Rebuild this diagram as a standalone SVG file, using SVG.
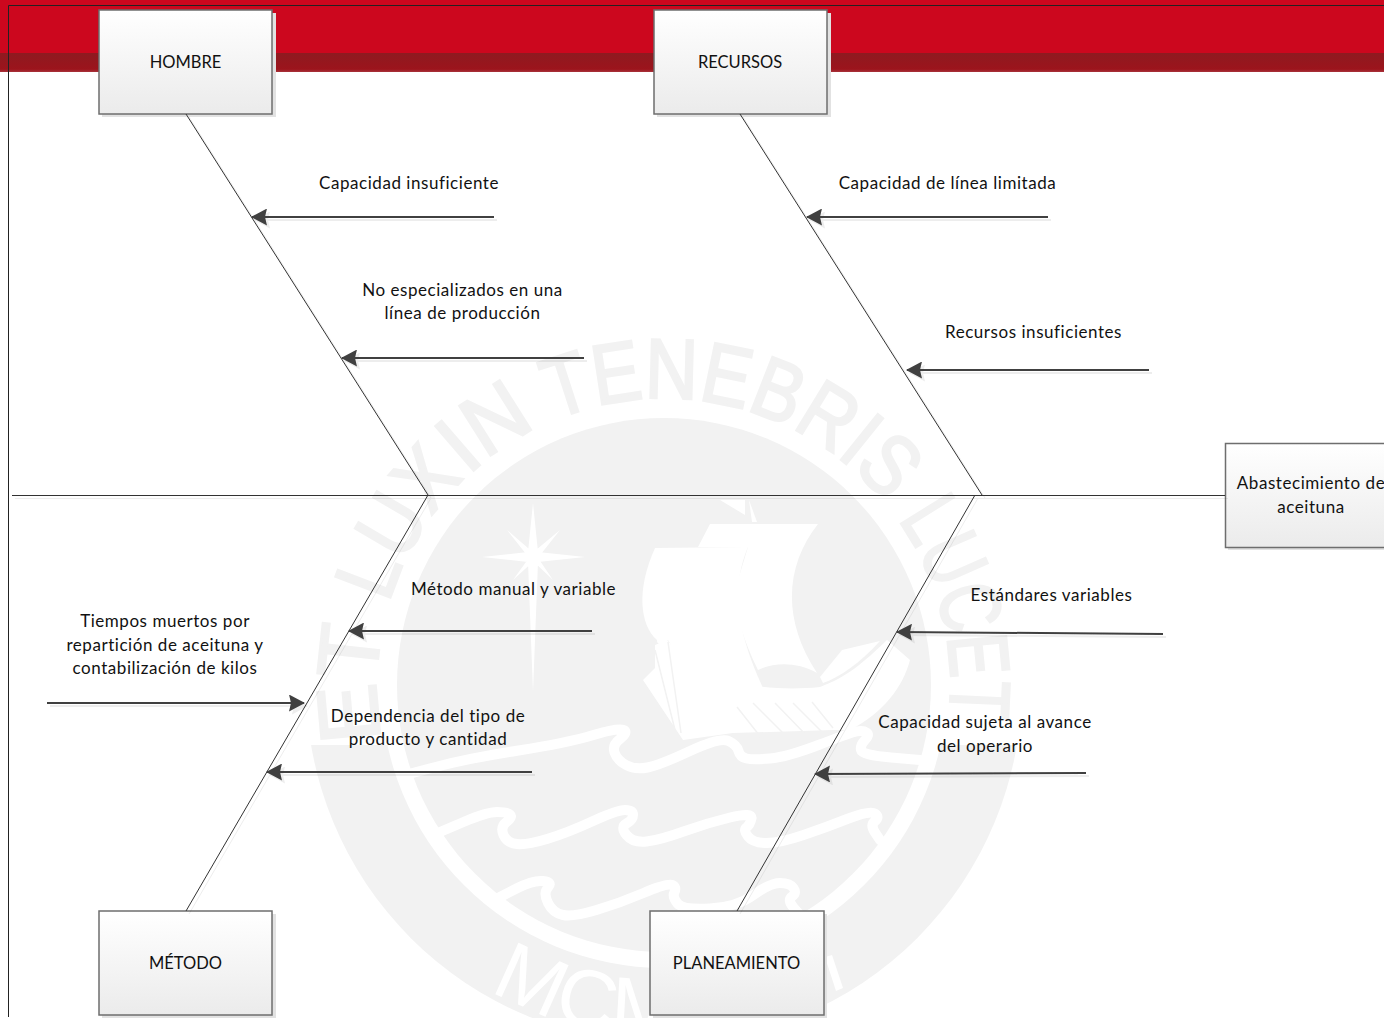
<svg xmlns="http://www.w3.org/2000/svg" width="1384" height="1018" viewBox="0 0 1384 1018">
<defs>
<linearGradient id="g" x1="0" y1="0" x2="0" y2="1"><stop offset="0" stop-color="#ffffff"/><stop offset="1" stop-color="#ebebeb"/></linearGradient>
<linearGradient id="band" x1="0" y1="0" x2="0" y2="1"><stop offset="0" stop-color="#8e1a20"/><stop offset="0.85" stop-color="#9c141c"/><stop offset="1" stop-color="#a8333a"/></linearGradient>
<marker id="a" markerUnits="userSpaceOnUse" markerWidth="17" markerHeight="17" refX="15" refY="8.500" orient="auto"><path d="M0 0L16 8.500L0 17L2 8.500Z" fill="#404040"/></marker>
<filter id="s" filterUnits="userSpaceOnUse" x="0" y="0" width="1384" height="1018"><feDropShadow dx="3" dy="3" stdDeviation="0.300" flood-color="#000" flood-opacity="0.070"/></filter>
<clipPath id="low"><rect x="0" y="745" width="1384" height="273"/></clipPath>
<path id="ring" d="M383 745A287 287 0 1 1 948 725"/>
<path id="ringb" d="M490 990A351 351 0 0 0 838 990"/>
</defs>
<style>
text{font-family:Lato,Carlito,"Liberation Sans",sans-serif;font-size:17px;letter-spacing:.55px;fill:#111;text-anchor:middle}
text.cap{font-size:16.500px;letter-spacing:0}
.box{fill:url(#g);stroke:#6e6e6e;stroke-width:1.500}
.sh{fill:#e2e2e2}
.bone{stroke:#333;stroke-width:1;fill:none}
.arr{stroke:#404040;stroke-width:2;fill:none;marker-end:url(#a)}
text.wm{font-family:"Liberation Sans",sans-serif;font-size:85px;letter-spacing:0;fill:#f2f2f2;stroke:#f2f2f2;stroke-width:2.500;text-anchor:start}
text.wb{font-family:"Liberation Sans",sans-serif;font-size:82px;letter-spacing:0;fill:#fff;text-anchor:start}
.w{fill:#fff}
.wl{fill:none;stroke:#fff;stroke-width:10;stroke-linejoin:round;stroke-linecap:round}
.gl{fill:none;stroke:#f2f2f2;stroke-width:1.500}
</style>
<rect width="1384" height="1018" fill="#fff"/>
<g id="banner">
<rect width="1384" height="53" fill="#cc071e"/>
<rect y="53" width="1384" height="19" fill="url(#band)"/>
</g>
<g id="watermark">
<circle cx="664" cy="685" r="358" fill="#f2f2f2" clip-path="url(#low)"/>
<circle cx="664" cy="685" r="283" fill="#fff"/>
<circle cx="664" cy="685" r="267" fill="#f2f2f2"/>
<text class="wm" textLength="113" lengthAdjust="spacingAndGlyphs"><textPath href="#ring" startOffset="5">ET</textPath></text>
<text class="wm" textLength="148" lengthAdjust="spacingAndGlyphs"><textPath href="#ring" startOffset="143">LUX</textPath></text>
<text class="wm" textLength="85" lengthAdjust="spacingAndGlyphs"><textPath href="#ring" startOffset="295">IN</textPath></text>
<text class="wm" textLength="366" lengthAdjust="spacingAndGlyphs"><textPath href="#ring" startOffset="398">TENEBRIS</textPath></text>
<text class="wm" textLength="210" lengthAdjust="spacingAndGlyphs"><textPath href="#ring" startOffset="784">LUCET</textPath></text>
<text class="wb"><textPath href="#ringb">MCM</textPath></text>
<path class="w" d="M825 957L832 955L843 988L836 991Z"/>
<path class="w" d="M533 503L538 552L585 557L538 562L533 692L528 562L482 557L528 552ZM507 530L536 555L530 559ZM560 530L537 559L530 555ZM513 580L531 555L536 559ZM553 580L531 559L536 555Z"/>
<path class="w" d="M655 548L748 547C733 583 733 623 763 688C725 690 690 680 668 640C660 645 657 645 657 640C640 625 636 590 655 548Z"/>
<path class="w" d="M710 524L818 524C787 563 780 617 817 673C797 662 775 662 758 670C738 630 733 600 738 580L748 547L698 547Z"/>
<path class="w" d="M820 677L842 650L880 641C860 663 840 677 823 683Z"/>
<path class="w" d="M720 500L745 500L745 515ZM749 500L757 522L752 522Z"/>
<path class="w" d="M643 680L655 668L655 645L667 640L682 657C707 680 763 693 820 687C847 677 863 663 887 640L910 660C903 687 883 713 850 730L833 730L733 733L683 740Z"/>
<path class="gl" d="M668 642L681 733M655 650L675 730M737 707L763 740M753 703L793 743M775 703L808 737M793 703L823 733M812 702L833 728"/>
<path class="wl" d="M405 775L437.500 766.500Q470 758 518.500 750.500Q567 743 593.500 735Q620 727 624 730Q628 733 620 739Q612 745 614.500 752.500Q617 760 626 765Q635 770 647.500 767.500Q660 765 690 751Q720 737 728.500 741Q737 745 738.500 751Q740 757 746.500 758.500Q753 760 770 758.500Q787 757 818.500 745Q850 733 856.500 731.500Q863 730 866.500 732.500Q870 735 865 740Q860 745 861 750Q862 755 891 757.500L920 760"/>
<path class="wl" d="M440 832L463.500 822Q487 812 497 812Q507 812 510 814.500Q513 817 506.500 822Q500 827 503.500 835Q507 843 517 844Q527 845 547 839Q567 833 592 821.500Q617 810 625 810Q633 810 633 815Q633 820 626.500 823.500Q620 827 626.500 835Q633 843 646.500 841.500Q660 840 683.500 831.500Q707 823 730 817.500Q753 812 751.500 818.500Q750 825 746.500 827.500Q743 830 748 836.500Q753 843 766.500 843Q780 843 803.500 835Q827 827 848.500 818.500Q870 810 875 813.500Q880 817 875 821Q870 825 875 832.500L880 840"/>
<path class="wl" d="M500 897L516.500 888.500Q533 880 543 881Q553 882 548 887.500Q543 893 548 903Q553 913 563 915Q573 917 596.500 910Q620 903 643.500 893Q667 883 672 885Q677 887 674.500 892Q672 897 677.500 903.500Q683 910 710 908.500Q737 907 753.500 895Q770 883 780 883Q790 883 793.500 888Q797 893 792 896.500Q787 900 793.500 907.500L800 915"/>
</g>
<g id="frame"><path d="M8.500 1017V5.500H1384" fill="none" stroke="#222" stroke-width="1"/></g>
<g id="hombre"><rect class="sh" x="102" y="13" width="174" height="104"/><rect class="box" x="99" y="10" width="173" height="104"/><text class="cap" x="185.500" y="68">HOMBRE</text></g>
<g id="recursos"><rect class="sh" x="657" y="13" width="174" height="104"/><rect class="box" x="654" y="10" width="173" height="104"/><text class="cap" x="740" y="68">RECURSOS</text></g>
<g id="metodo"><rect class="sh" x="102" y="914" width="174" height="104"/><rect class="box" x="99" y="911" width="173" height="104"/><text class="cap" x="185.500" y="969">MÉTODO</text></g>
<g id="planeamiento"><rect class="sh" x="653" y="914" width="174" height="104"/><rect class="box" x="650" y="911" width="174" height="104"/><text class="cap" x="736.500" y="969">PLANEAMIENTO</text></g>
<g id="efecto"><rect class="sh" x="1228" y="446" width="156" height="104"/><rect class="box" x="1225.500" y="443.500" width="170" height="104"/><text x="1311" y="489">Abastecimiento de</text><text x="1311" y="513">aceituna</text></g>
<g id="connectors" filter="url(#s)">
<path class="bone" d="M12 495.500H1225"/>
<path class="bone" d="M186 114L428 495L186 911"/>
<path class="bone" d="M740 114L982 495"/>
<path class="bone" d="M975 495L737 911"/>
<path class="arr" d="M494 217H252"/>
<path class="arr" d="M584 358H342"/>
<path class="arr" d="M1048 217H807"/>
<path class="arr" d="M1149 370H907"/>
<path class="arr" d="M592 631H349"/>
<path class="arr" d="M47 703H304"/>
<path class="arr" d="M532 772H267"/>
<path class="arr" d="M1163 634L897 632"/>
<path class="arr" d="M1086 773L815 774"/>
</g>
<g id="labels">
<text x="409" y="189">Capacidad insuficiente</text>
<text x="462.500" y="296">No especializados en una</text><text x="462.500" y="319">línea de producción</text>
<text x="947.500" y="189">Capacidad de línea limitada</text>
<text x="1033.500" y="338">Recursos insuficientes</text>
<text x="513.500" y="595">Método manual y variable</text>
<text x="165" y="627">Tiempos muertos por</text><text x="165" y="651">repartición de aceituna y</text><text x="165" y="674">contabilización de kilos</text>
<text x="428" y="722">Dependencia del tipo de</text><text x="428" y="745">producto y cantidad</text>
<text x="1051.500" y="601">Estándares variables</text>
<text x="985" y="728">Capacidad sujeta al avance</text><text x="985" y="752">del operario</text>
</g>
</svg>
